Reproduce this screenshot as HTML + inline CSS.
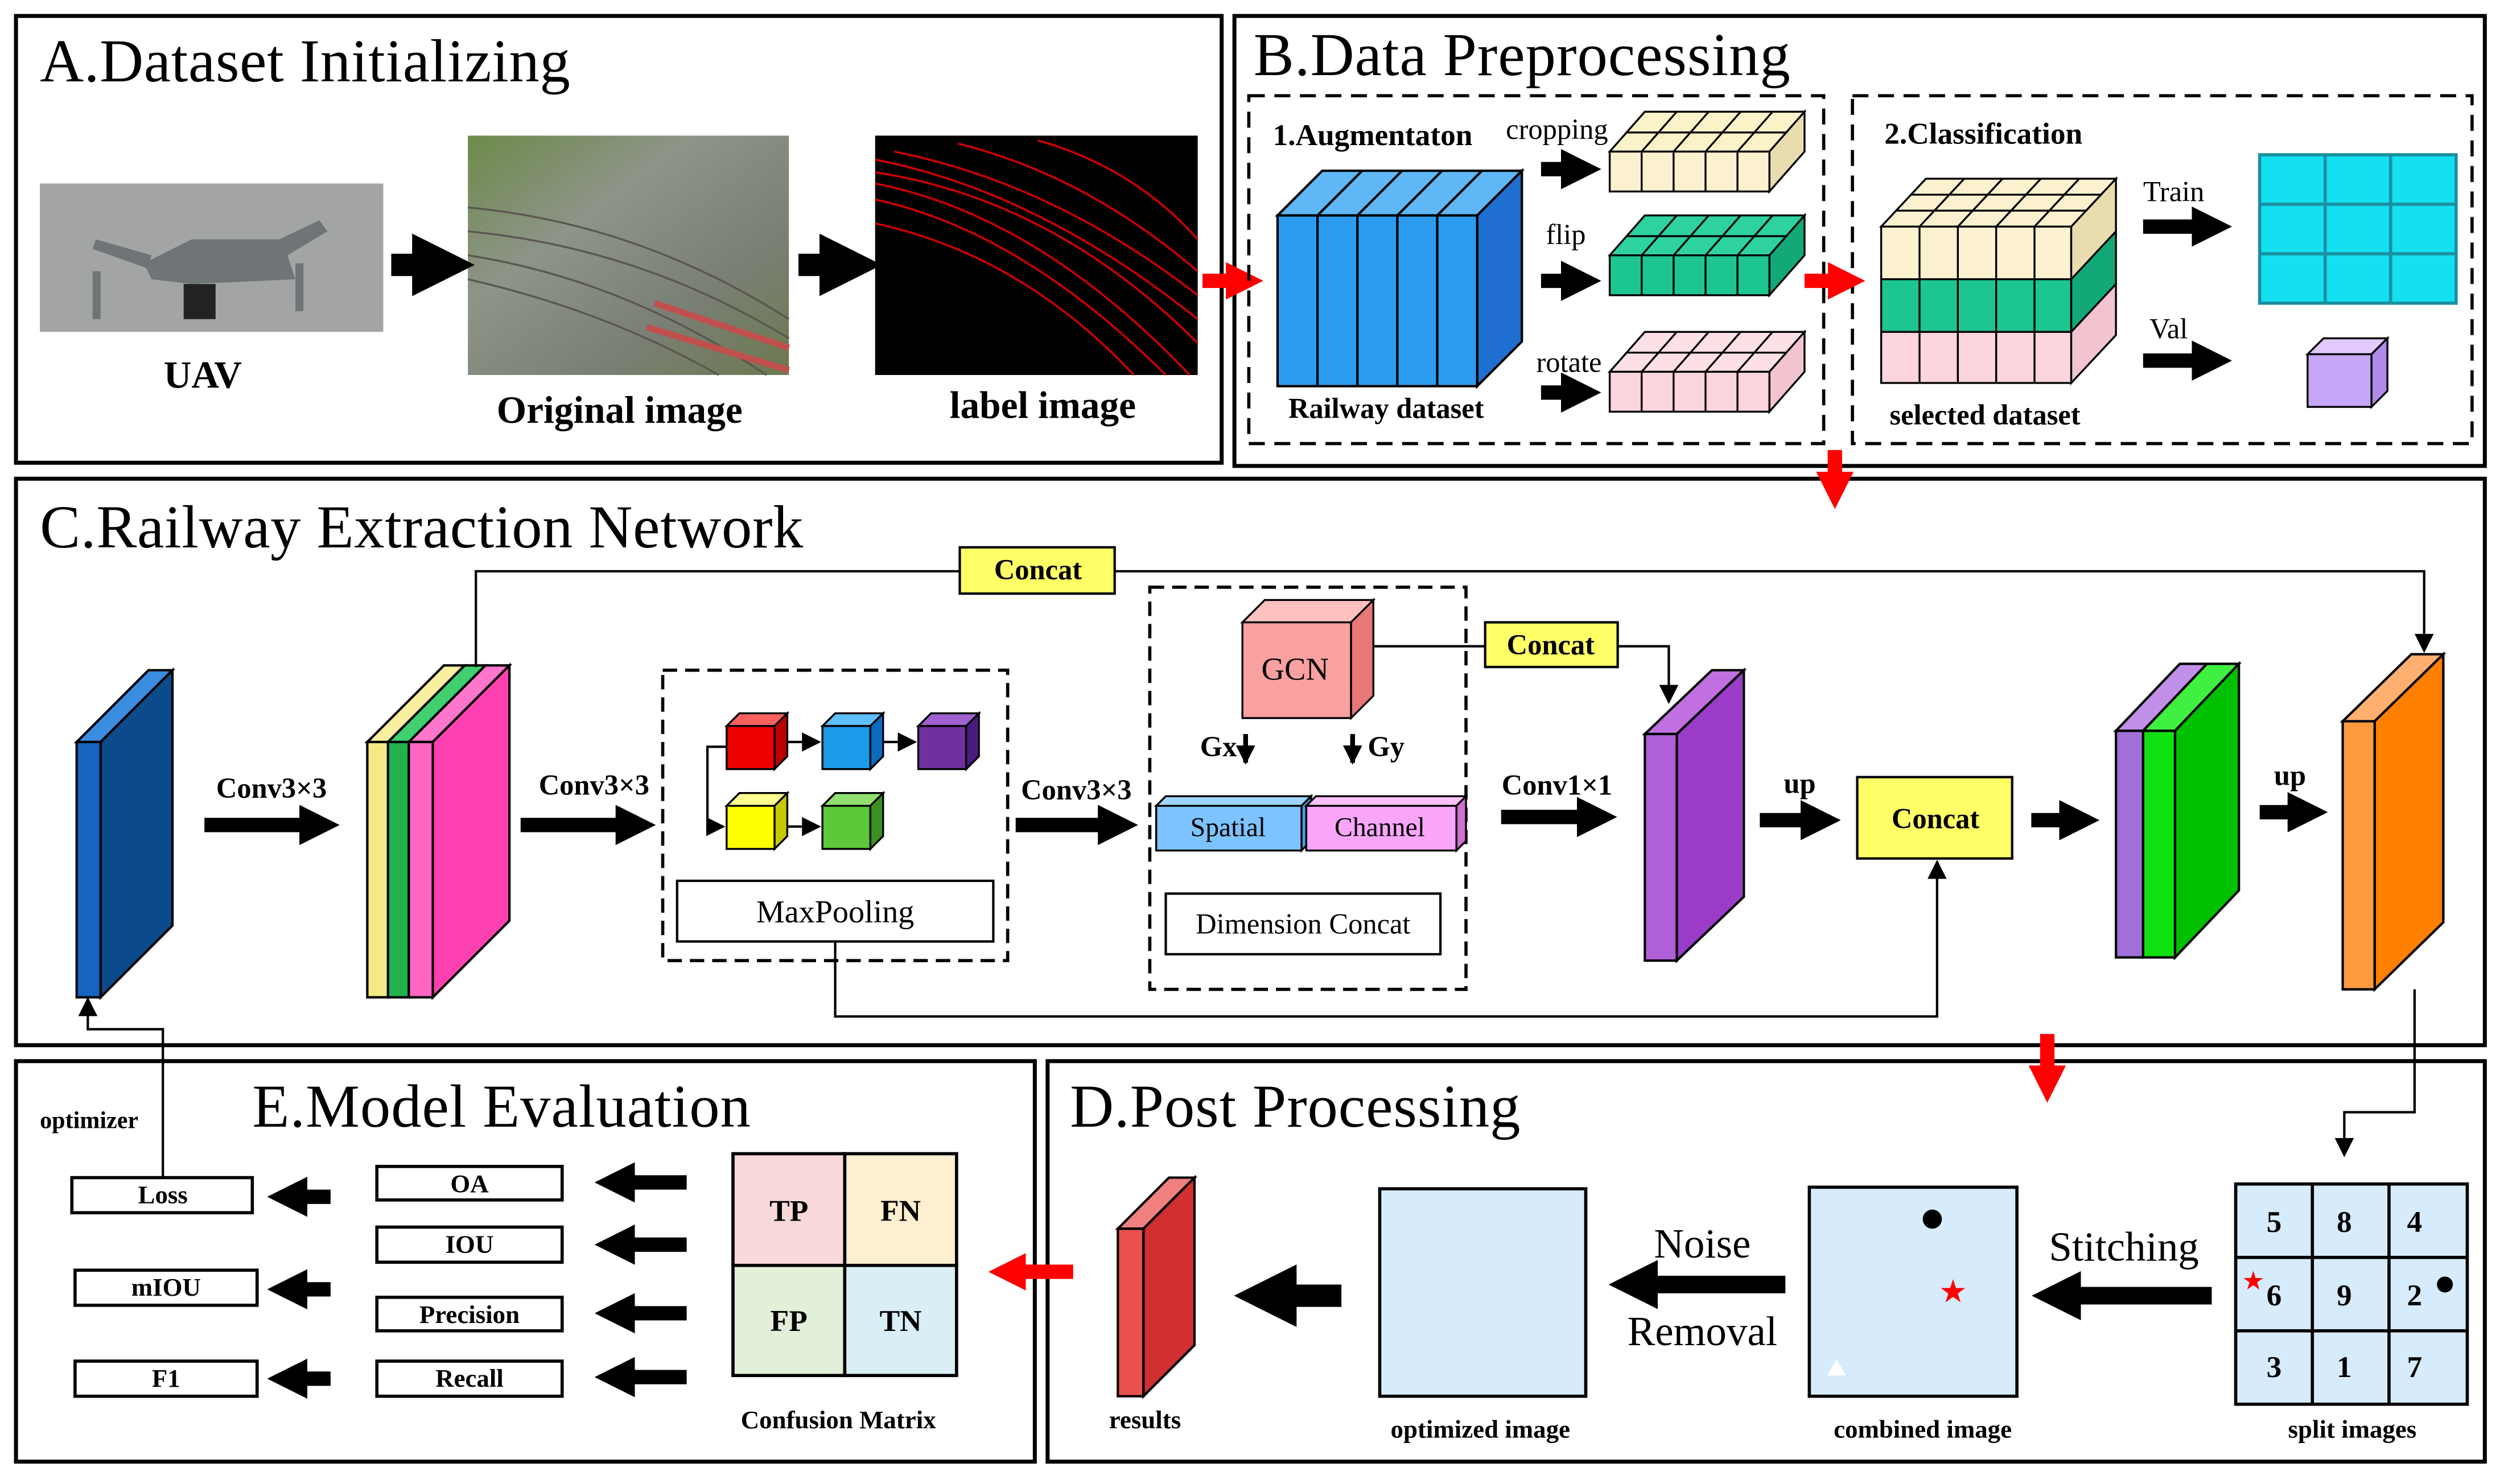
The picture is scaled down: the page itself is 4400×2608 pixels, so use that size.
<!DOCTYPE html>
<html><head><meta charset="utf-8"><style>html,body{margin:0;padding:0;background:#fff}svg{display:block}</style></head><body>
<svg width="4400" height="2608" viewBox="0 0 1568 930" preserveAspectRatio="none" xmlns="http://www.w3.org/2000/svg" font-family="Liberation Serif, serif">
<defs>
<marker id="b" viewBox="0 0 10 10" refX="1" refY="5" markerWidth="2.8" markerHeight="2.8" orient="auto"><path d="M0,0L10,5L0,10z" fill="#000"/></marker>
<marker id="r" viewBox="0 0 10 10" refX="1" refY="5" markerWidth="2.6" markerHeight="2.6" orient="auto"><path d="M0,0L10,5L0,10z" fill="#f00"/></marker>
<marker id="t" viewBox="0 0 10 10" refX="9" refY="5" markerWidth="12" markerHeight="12" markerUnits="userSpaceOnUse" orient="auto"><path d="M0,0L10,5L0,10z" fill="#000"/></marker>
<linearGradient id="og" x1="0" y1="0" x2="1" y2="1"><stop offset="0" stop-color="#6e8a4a"/><stop offset=".35" stop-color="#8d9488"/><stop offset=".7" stop-color="#7a7f74"/><stop offset="1" stop-color="#6c7a50"/></linearGradient>
</defs>
<g fill="none" stroke="#000" stroke-width="2.5">
<rect x="10" y="10" width="755" height="280"/><rect x="773" y="10" width="783" height="282"/>
<rect x="10" y="300" width="1546" height="355"/><rect x="10" y="665" width="638" height="251"/><rect x="656" y="665" width="900" height="251"/>
</g>
<g font-size="38"><text x="25" y="51" textLength="332">A.Dataset Initializing</text><text x="785" y="47" textLength="336">B.Data Preprocessing</text><text x="25" y="343" textLength="478">C.Railway Extraction Network</text><text x="158" y="706" textLength="312">E.Model Evaluation</text><text x="670" y="706" textLength="282">D.Post Processing</text></g>
<!-- A -->
<rect x="25" y="115" width="215" height="93" fill="#a3a5a5"/>
<g fill="#6f7477"><path d="M90,165 L120,150 L175,150 L200,138 L205,145 L180,160 L185,175 L120,178 L95,175z"/><rect x="115" y="178" width="20" height="22" fill="#222"/><rect x="58" y="170" width="5" height="30"/><rect x="185" y="165" width="5" height="30"/><path d="M95,160 L60,150 L58,156 L92,168z"/></g>
<rect x="293" y="85" width="201" height="150" fill="url(#og)"/>
<g stroke="#5a5650" stroke-width="1.2" fill="none"><path d="M293,130 Q400,140 494,200"/><path d="M293,145 Q400,155 494,212"/><path d="M293,160 Q390,175 480,235"/><path d="M293,175 Q380,195 450,235"/></g>
<g stroke="#c0504d" stroke-width="4"><path d="M410,190 L494,218"/><path d="M405,205 L494,232"/></g>
<rect x="548" y="85" width="202" height="150" fill="#000"/>
<g stroke="#c00" stroke-width="1.3" fill="none"><path d="M548,100 Q650,120 750,200"/><path d="M560,95 Q660,115 750,185"/><path d="M548,115 Q650,135 745,235"/><path d="M548,125 Q640,145 730,235"/><path d="M600,90 Q680,110 750,170"/><path d="M548,140 Q640,160 710,235"/><path d="M650,88 Q710,105 750,150"/><path d="M548,108 Q660,125 750,215"/></g>
<g font-weight="bold" font-size="24" text-anchor="middle"><text x="127" y="243">UAV</text><text x="388" y="265">Original image</text><text x="653" y="262">label image</text></g>
<g stroke="#000" stroke-width="14"><line x1="245" y1="166" x2="262" y2="166" marker-end="url(#b)"/><line x1="500" y1="166" x2="517" y2="166" marker-end="url(#b)"/></g>
<line x1="753" y1="176" x2="770" y2="176" stroke="#f00" stroke-width="9" marker-end="url(#r)"/>
<!-- B -->
<g fill="none" stroke="#000" stroke-width="2" stroke-dasharray="10,6"><rect x="782" y="60" width="360" height="218"/><rect x="1160" y="60" width="388" height="218"/></g>
<g font-weight="bold" font-size="19"><text x="797" y="91">1.Augmentaton</text><text x="1180" y="90">2.Classification</text></g>
<g font-size="18"><text x="943" y="87">cropping</text><text x="968" y="153">flip</text><text x="962" y="233">rotate</text><text x="1342" y="126">Train</text><text x="1346" y="212">Val</text></g>
<g stroke="#000" stroke-width="1.5">
<polygon points="800,135 828,107 953,107 925,135" fill="#5fb8f5"/><polygon points="925,135 953,107 953,214 925,242" fill="#1e6fcf"/><rect x="800" y="135" width="125" height="107" fill="#2d9bf0"/>
<path d="M825,135V242M850,135V242M875,135V242M900,135V242M825,135L853,107M850,135L878,107M875,135L903,107M900,135L928,107" fill="none"/>
</g>
<g font-weight="bold" font-size="18" text-anchor="middle"><text x="868" y="262">Railway dataset</text><text x="1243" y="266">selected dataset</text></g>
<g stroke="#000" stroke-width="1.2">
<polygon points="1008,95 1030,70 1130,70 1108,95" fill="#fbf3c8"/><polygon points="1108,95 1130,70 1130,95 1108,120" fill="#e9ddb0"/><rect x="1008" y="95" width="100" height="25" fill="#fbf1cf"/>
<path d="M1028,95V120M1048,95V120M1068,95V120M1088,95V120M1028,95L1050,70M1048,95L1070,70M1068,95L1090,70M1088,95L1110,70M1019,83H1119" fill="none"/>
<polygon points="1008,160 1030,135 1130,135 1108,160" fill="#2ed1a0"/><polygon points="1108,160 1130,135 1130,160 1108,185" fill="#12a878"/><rect x="1008" y="160" width="100" height="25" fill="#1dc690"/>
<path d="M1028,160V185M1048,160V185M1068,160V185M1088,160V185M1028,160L1050,135M1048,160L1070,135M1068,160L1090,135M1088,160L1110,135M1019,148H1119" fill="none"/>
<polygon points="1008,233 1030,208 1130,208 1108,233" fill="#fde0e6"/><polygon points="1108,233 1130,208 1130,233 1108,258" fill="#f1c4cf"/><rect x="1008" y="233" width="100" height="25" fill="#fcd5de"/>
<path d="M1028,233V258M1048,233V258M1068,233V258M1088,233V258M1028,233L1050,208M1048,233L1070,208M1068,233L1090,208M1088,233L1110,208M1019,221H1119" fill="none"/>
</g>
<g stroke="#000" stroke-width="9"><line x1="965" y1="106" x2="980" y2="106" marker-end="url(#b)"/><line x1="965" y1="176" x2="980" y2="176" marker-end="url(#b)"/><line x1="965" y1="246" x2="980" y2="246" marker-end="url(#b)"/><line x1="1342" y1="142" x2="1375" y2="142" marker-end="url(#b)"/><line x1="1342" y1="226" x2="1375" y2="226" marker-end="url(#b)"/></g>
<line x1="1130" y1="176" x2="1147" y2="176" stroke="#f00" stroke-width="9" marker-end="url(#r)"/>
<g stroke="#000" stroke-width="1.2">
<polygon points="1178,142 1206,112 1325,112 1297,142" fill="#fbf1cf"/>
<rect x="1178" y="142" width="119" height="33" fill="#fbf1cf"/><rect x="1178" y="175" width="119" height="33" fill="#1dc690"/><rect x="1178" y="208" width="119" height="32" fill="#fcd5de"/>
<polygon points="1297,142 1325,112 1325,145 1297,175" fill="#e9ddb0"/><polygon points="1297,175 1325,145 1325,178 1297,208" fill="#12a878"/><polygon points="1297,208 1325,178 1325,210 1297,240" fill="#f1c4cf"/>
<path d="M1202,142V240M1226,142V240M1250,142V240M1274,142V240M1202,142L1230,112M1226,142L1254,112M1250,142L1278,112M1274,142L1302,112M1187,132H1306M1197,122H1316" fill="none"/>
</g>
<g stroke="#1a8fa0" stroke-width="2"><rect x="1415" y="97" width="123" height="93" fill="#13e0f0"/><path d="M1456,97V190M1497,97V190M1415,128H1538M1415,159H1538" fill="none"/></g>
<g stroke="#000" stroke-width="1.2"><polygon points="1445,222 1455,212 1495,212 1485,222" fill="#e2c9ff"/><polygon points="1485,222 1495,212 1495,245 1485,255" fill="#b08ae8"/><rect x="1445" y="222" width="40" height="33" fill="#c7a6f7"/></g>
<line x1="1149" y1="282" x2="1149" y2="298" stroke="#f00" stroke-width="9" marker-end="url(#r)"/>
<!-- C -->
<g stroke="#000" stroke-width="1.5">
<polygon points="48,465 93,420 108,420 63,465" fill="#3a8de0"/><polygon points="63,465 108,420 108,580 63,625" fill="#0b4a8b"/><rect x="48" y="465" width="15" height="160" fill="#1565c0"/>
<polygon points="230,465 278,417 291,417 243,465" fill="#f8f0a0"/><rect x="230" y="465" width="13" height="160" fill="#f3ea85"/>
<polygon points="243,465 291,417 304,417 256,465" fill="#40d070"/><rect x="243" y="465" width="13" height="160" fill="#22b14c"/>
<polygon points="256,465 304,417 319,417 271,465" fill="#ff77cc"/><polygon points="271,465 319,417 319,577 271,625" fill="#ff40b0"/><rect x="256" y="465" width="15" height="160" fill="#ff66c4"/>
</g>
<g stroke="#000" stroke-width="1.5" fill="none"><polyline points="298,418 298,358 601,358"/><polyline points="698,358 1518,358 1518,408" marker-end="url(#t)"/>
<polyline points="860,405 930,405"/><polyline points="1013,405 1045,405 1045,440" marker-end="url(#t)"/>
<polyline points="523,590 523,637 1213,637 1213,540" marker-end="url(#t)"/>
<polyline points="1512,620 1512,697 1468,697 1468,724" marker-end="url(#t)"/>
<polyline points="102,740 102,645 55,645 55,626" marker-end="url(#t)"/></g>
<g stroke="#000" stroke-width="1.5"><rect x="601" y="343" width="97" height="29" fill="#ffff66"/><rect x="930" y="390" width="83" height="28" fill="#ffff66"/><rect x="1163" y="487" width="97" height="51" fill="#ffff66"/></g>
<g font-weight="bold" font-size="18" text-anchor="middle"><text x="650" y="363">Concat</text><text x="971" y="410">Concat</text><text x="1212" y="519">Concat</text>
<text x="170" y="500">Conv3×3</text><text x="372" y="498">Conv3×3</text><text x="674" y="501">Conv3×3</text><text x="975" y="498">Conv1×1</text><text x="1127" y="497">up</text><text x="1434" y="492">up</text><text x="763" y="474">Gx</text><text x="868" y="474">Gy</text></g>
<g stroke="#000" stroke-width="9"><line x1="128" y1="517" x2="190" y2="517" marker-end="url(#b)"/><line x1="326" y1="517" x2="388" y2="517" marker-end="url(#b)"/><line x1="636" y1="517" x2="690" y2="517" marker-end="url(#b)"/><line x1="940" y1="512" x2="990" y2="512" marker-end="url(#b)"/><line x1="1102" y1="514" x2="1130" y2="514" marker-end="url(#b)"/><line x1="1272" y1="514" x2="1292" y2="514" marker-end="url(#b)"/><line x1="1415" y1="509" x2="1435" y2="509" marker-end="url(#b)"/></g>
<g stroke="#000" stroke-width="3"><line x1="780" y1="460" x2="780" y2="478" marker-end="url(#t)"/><line x1="847" y1="460" x2="847" y2="478" marker-end="url(#t)"/></g>
<g fill="none" stroke="#000" stroke-width="2" stroke-dasharray="9,5"><rect x="415" y="420" width="216" height="182"/><rect x="720" y="368" width="198" height="252"/></g>
<g stroke="#000" stroke-width="1.2">
<polygon points="455,455 463,447 493,447 485,455" fill="#ff6060"/><polygon points="485,455 493,447 493,474 485,482" fill="#b00"/><rect x="455" y="455" width="30" height="27" fill="#e00"/>
<polygon points="515,455 523,447 553,447 545,455" fill="#60c0ff"/><polygon points="545,455 553,447 553,474 545,482" fill="#0a6cbf"/><rect x="515" y="455" width="30" height="27" fill="#1b9be8"/>
<polygon points="575,455 583,447 613,447 605,455" fill="#a060d0"/><polygon points="605,455 613,447 613,474 605,482" fill="#4a1a80"/><rect x="575" y="455" width="30" height="27" fill="#7030a0"/>
<polygon points="455,505 463,497 493,497 485,505" fill="#ffff90"/><polygon points="485,505 493,497 493,524 485,532" fill="#c8c800"/><rect x="455" y="505" width="30" height="27" fill="#ffff00"/>
<polygon points="515,505 523,497 553,497 545,505" fill="#90e070"/><polygon points="545,505 553,497 553,524 545,532" fill="#3a9020"/><rect x="515" y="505" width="30" height="27" fill="#5cc83a"/>
</g>
<g stroke="#000" stroke-width="1.5" fill="none"><line x1="493" y1="465" x2="513" y2="465" marker-end="url(#t)"/><line x1="553" y1="465" x2="573" y2="465" marker-end="url(#t)"/><polyline points="455,468 443,468 443,518 453,518" marker-end="url(#t)"/><line x1="493" y1="518" x2="513" y2="518" marker-end="url(#t)"/></g>
<rect x="424" y="552" width="198" height="38" fill="#fff" stroke="#000" stroke-width="1.5"/><text x="523" y="578" font-size="20" text-anchor="middle">MaxPooling</text>
<g stroke="#000" stroke-width="1.2">
<polygon points="778,390 792,376 860,376 846,390" fill="#ffc0c0"/><polygon points="846,390 860,376 860,436 846,450" fill="#e87878"/><rect x="778" y="390" width="68" height="60" fill="#f9a0a0"/>
<polygon points="724,505 730,499 821,499 815,505" fill="#9fd4ff"/><polygon points="815,505 821,499 821,527 815,533" fill="#4c9ee0"/><rect x="724" y="505" width="91" height="28" fill="#7cc3ff"/>
<polygon points="818,505 824,499 918,499 912,505" fill="#ffc0ff"/><polygon points="912,505 918,499 918,527 912,533" fill="#d070d0"/><rect x="818" y="505" width="94" height="28" fill="#f9a6f9"/>
</g>
<g font-size="17" text-anchor="middle"><text x="811" y="426" font-size="20">GCN</text><text x="769" y="524">Spatial</text><text x="864" y="524">Channel</text></g>
<rect x="730" y="560" width="172" height="38" fill="#fff" stroke="#000" stroke-width="1.5"/><text x="816" y="585" font-size="18" text-anchor="middle">Dimension Concat</text>
<g stroke="#000" stroke-width="1.5">
<polygon points="1030,460 1072,420 1092,420 1050,460" fill="#c070e0"/><polygon points="1050,460 1092,420 1092,562 1050,602" fill="#9a3cc8"/><rect x="1030" y="460" width="20" height="142" fill="#b060d8"/>
<polygon points="1325,458 1365,416 1382,416 1342,458" fill="#c090e8"/><rect x="1325" y="458" width="17" height="142" fill="#a070d8"/>
<polygon points="1342,458 1382,416 1402,416 1362,458" fill="#40f040"/><polygon points="1362,458 1402,416 1402,558 1362,600" fill="#00c000"/><rect x="1342" y="458" width="20" height="142" fill="#10e010"/>
<polygon points="1467,452 1510,410 1530,410 1487,452" fill="#ffb070"/><polygon points="1487,452 1530,410 1530,578 1487,620" fill="#ff7f00"/><rect x="1467" y="452" width="20" height="168" fill="#ff9a40"/>
</g>
<line x1="1282" y1="648" x2="1282" y2="670" stroke="#f00" stroke-width="9" marker-end="url(#r)"/>
<!-- E -->
<text x="25" y="707" font-size="15" font-weight="bold">optimizer</text>
<g fill="#fff" stroke="#000" stroke-width="2"><rect x="45" y="738" width="113" height="22"/><rect x="47" y="796" width="114" height="22"/><rect x="47" y="853" width="114" height="22"/><rect x="236" y="731" width="116" height="21"/><rect x="236" y="769" width="116" height="22"/><rect x="236" y="813" width="116" height="21"/><rect x="236" y="853" width="116" height="22"/></g>
<g font-weight="bold" font-size="16" text-anchor="middle"><text x="102" y="754">Loss</text><text x="104" y="812">mIOU</text><text x="104" y="869">F1</text><text x="294" y="747">OA</text><text x="294" y="785">IOU</text><text x="294" y="829">Precision</text><text x="294" y="869">Recall</text><text x="525" y="895">Confusion Matrix</text><text x="717" y="895">results</text><text x="927" y="901">optimized image</text><text x="1204" y="901">combined image</text><text x="1473" y="901">split images</text></g>
<g stroke="#000" stroke-width="9"><line x1="207" y1="750" x2="190" y2="750" marker-end="url(#b)"/><line x1="207" y1="808" x2="190" y2="808" marker-end="url(#b)"/><line x1="207" y1="864" x2="190" y2="864" marker-end="url(#b)"/>
<line x1="430" y1="741" x2="395" y2="741" marker-end="url(#b)"/><line x1="430" y1="780" x2="395" y2="780" marker-end="url(#b)"/><line x1="430" y1="823" x2="395" y2="823" marker-end="url(#b)"/><line x1="430" y1="863" x2="395" y2="863" marker-end="url(#b)"/></g>
<g stroke="#000" stroke-width="2"><rect x="459" y="723" width="70" height="70" fill="#f8d8d8"/><rect x="529" y="723" width="70" height="70" fill="#fdefcf"/><rect x="459" y="793" width="70" height="69" fill="#e2efd9"/><rect x="529" y="793" width="70" height="69" fill="#d9eef5"/></g>
<g font-weight="bold" font-size="19" text-anchor="middle"><text x="494" y="765">TP</text><text x="564" y="765">FN</text><text x="494" y="834">FP</text><text x="564" y="834">TN</text></g>
<line x1="672" y1="797" x2="640" y2="797" stroke="#f00" stroke-width="9" marker-end="url(#r)"/>
<!-- D -->
<g stroke="#000" stroke-width="1.5"><polygon points="700,770 732,738 748,738 716,770" fill="#f08080"/><polygon points="716,770 748,738 748,843 716,875" fill="#d03030"/><rect x="700" y="770" width="16" height="105" fill="#e85050"/></g>
<g stroke="#000" stroke-width="14"><line x1="840" y1="812" x2="808" y2="812" marker-end="url(#b)"/></g>
<g stroke="#000" stroke-width="11"><line x1="1118" y1="805" x2="1035" y2="805" marker-end="url(#b)"/><line x1="1385" y1="812" x2="1300" y2="812" marker-end="url(#b)"/></g>
<g stroke="#000" stroke-width="2" fill="#d6ebfb"><rect x="864" y="745" width="129" height="130"/><rect x="1133" y="744" width="130" height="131"/><rect x="1400" y="742" width="145" height="138"/></g>
<path d="M1448,742V880M1496,742V880M1400,788H1545M1400,834H1545" stroke="#000" stroke-width="2"/>
<g font-size="26" text-anchor="middle"><text x="1066" y="788">Noise</text><text x="1066" y="843">Removal</text><text x="1330" y="790">Stitching</text></g>
<circle cx="1210" cy="764" r="6"/><text x="1223" y="816" fill="#f00" font-size="20" text-anchor="middle">★</text><polygon points="1150,852 1144,862 1156,862" fill="#fff"/>
<g font-weight="bold" font-size="19" text-anchor="middle"><text x="1424" y="772">5</text><text x="1468" y="772">8</text><text x="1512" y="772">4</text><text x="1424" y="818">6</text><text x="1468" y="818">9</text><text x="1512" y="818">2</text><text x="1424" y="863">3</text><text x="1468" y="863">1</text><text x="1512" y="863">7</text></g>
<text x="1411" y="808" fill="#f00" font-size="16" text-anchor="middle">★</text><circle cx="1531" cy="805" r="5"/>
</svg>
</body></html>
